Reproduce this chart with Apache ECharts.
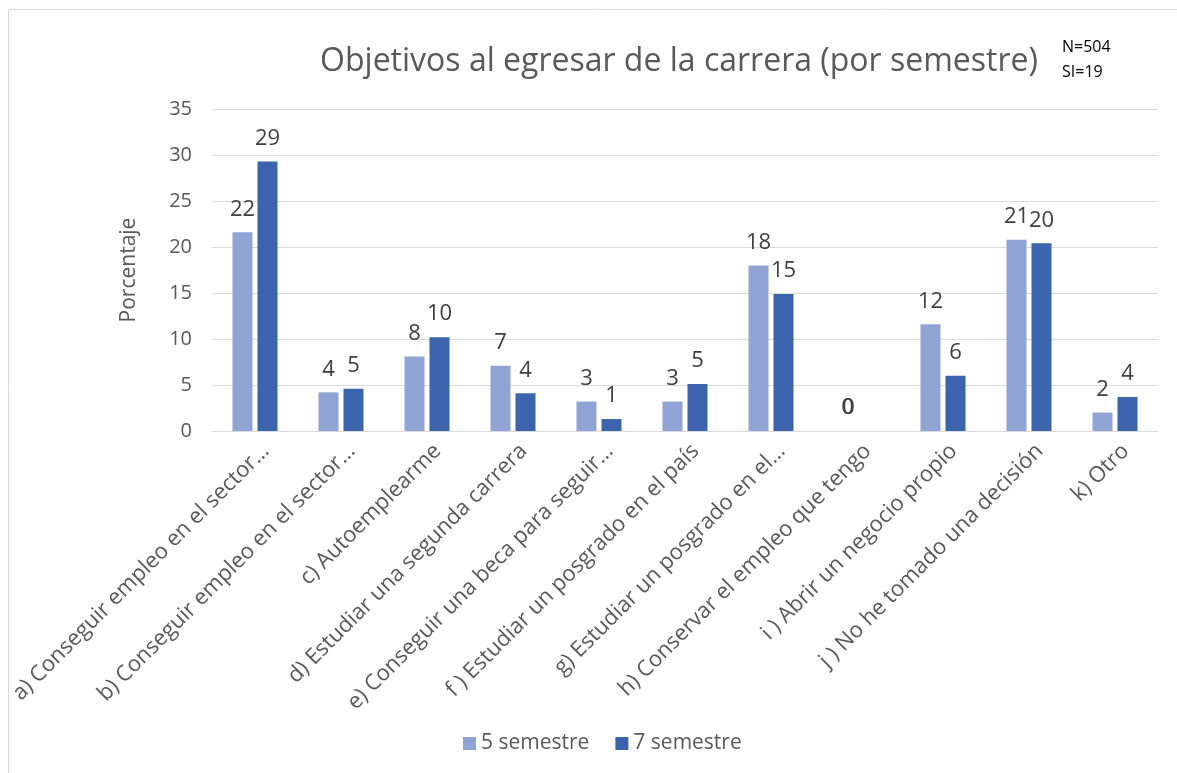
<!DOCTYPE html>
<html>
<head>
<meta charset="utf-8">
<script src="https://cdn.jsdelivr.net/npm/echarts@6/dist/echarts.min.js"></script>
<style>
  html, body { margin: 0; padding: 0; background: #fff; }
  #main { width: 1177px; height: 773px; }
</style>
</head>
<body>
<div id="main"></div>
<script>
// categorias (texto tal como aparece, ya truncado)
var categorias = [
  'a) Conseguir empleo en el sector…',
  'b) Conseguir empleo en el sector…',
  'c) Autoemplearme',
  'd) Estudiar una segunda carrera',
  'e) Conseguir una beca para seguir…',
  'f ) Estudiar un posgrado en el país',
  'g) Estudiar un posgrado en el…',
  'h) Conservar el empleo que tengo',
  'i ) Abrir un negocio propio',
  'j ) No he tomado una decisión',
  'k) Otro'
];
var semestre5 = [21.6, 4.2, 8.1, 7.1, 3.2, 3.2, 18.0, 0, 11.6, 20.8, 2.0];
var semestre7 = [29.3, 4.6, 10.2, 4.1, 1.3, 5.1, 14.9, 0, 6.0, 20.4, 3.7];
var yTicks = { min: 0, max: 35, interval: 5 };

var chart = echarts.init(document.getElementById('main'));
var fuente = '"Open Sans", "Noto Sans", sans-serif';
var gris = '#595959';

var etiqueta = {
  show: true,
  position: 'top',
  distance: 12,
  color: '#404040',
  fontSize: 22,
  fontFamily: fuente,
  formatter: function (p) { return Math.round(p.value); }
};

// los ceros de h) quedan encimados en el centro de la categoria
function conCeros(arr, dx) {
  return arr.map(function (v) {
    if (v === 0) return { value: v, label: { offset: [dx, 0] } };
    return v;
  });
}

var option = {
  animation: false,
  backgroundColor: '#fff',
  textStyle: { fontFamily: fuente },
  graphic: [{
    type: 'rect',
    shape: { x: 8.5, y: 9.5, width: 1300, height: 900 },
    style: { fill: 'none', stroke: '#d9d9d9', lineWidth: 1 },
    silent: true
  }, {
    type: 'text',
    left: 1062, top: 39,
    style: { text: 'N=504', fontSize: 16, fill: '#000', fontFamily: fuente }
  }, {
    type: 'text',
    left: 1062, top: 64,
    style: { text: 'SI=19', fontSize: 16, fill: '#000', fontFamily: fuente }
  }],
  title: {
    text: 'Objetivos al egresar de la carrera (por semestre)',
    left: 674, top: 41, textAlign: 'center',
    textStyle: { fontSize: 32, fontWeight: 'normal', color: gris, fontFamily: fuente }
  },
  legend: {
    top: 728, left: 458,
    itemWidth: 13, itemHeight: 13, itemGap: 26,
    icon: 'rect',
    textStyle: { fontSize: 21, color: gris, fontFamily: fuente },
    data: ['5 semestre', '7 semestre']
  },
  grid: { left: 212, right: 19, top: 109, bottom: 342 },
  xAxis: {
    type: 'category',
    data: categorias,
    axisLine: { lineStyle: { color: '#d9d9d9' } },
    axisTick: { show: false },
    axisLabel: {
      rotate: 45, interval: 0, fontSize: 22, color: gris, margin: 6,
      verticalAlign: 'top', padding: [4, 0, 0, 0], fontFamily: fuente
    }
  },
  yAxis: {
    type: 'value',
    min: yTicks.min, max: yTicks.max, interval: yTicks.interval,
    name: 'Porcentaje',
    nameLocation: 'middle',
    nameGap: 72,
    nameTextStyle: { fontSize: 21, color: gris, fontFamily: fuente },
    axisLine: { show: false },
    axisTick: { show: false },
    axisLabel: { fontSize: 20, color: gris, margin: 20, fontFamily: fuente },
    splitLine: { lineStyle: { color: '#d9d9d9', width: 1 } }
  },
  series: [{
    name: '5 semestre',
    type: 'bar',
    data: conCeros(semestre5, 3),
    barWidth: 20,
    barGap: '25%',
    itemStyle: { color: '#8FA4D4' },
    label: etiqueta
  }, {
    name: '7 semestre',
    type: 'bar',
    data: conCeros(semestre7, -21),
    barWidth: 20,
    itemStyle: { color: '#3C64AD' },
    label: etiqueta
  }]
};
chart.setOption(option);
</script>
</body>
</html>
